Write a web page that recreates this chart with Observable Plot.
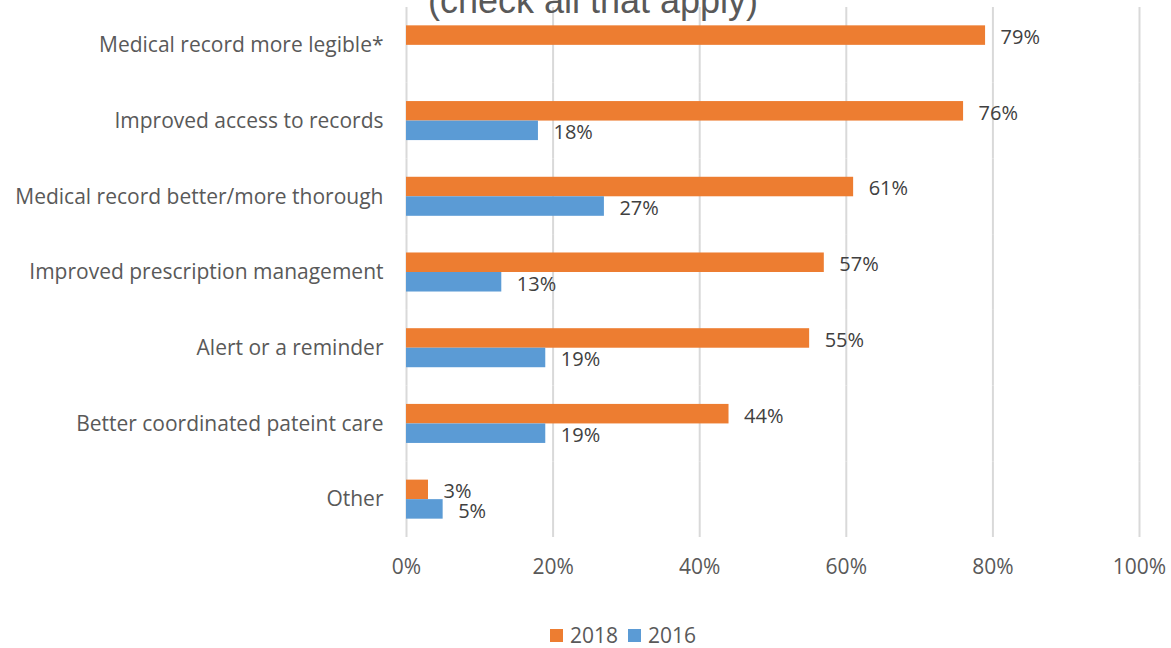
<!DOCTYPE html>
<html><head><meta charset="utf-8">
<script src="https://cdn.jsdelivr.net/npm/d3@7"></script>
<script src="https://cdn.jsdelivr.net/npm/@observablehq/plot@0.6"></script>
<style>
body{margin:0;background:#fff;}
#wrap{position:relative;width:1171px;height:648px;overflow:hidden;font-family:"Open Sans",sans-serif;background:#fff;}
#chart{position:absolute;left:0;top:0;}
#title{position:absolute;left:0;width:1186px;top:-17px;text-align:center;font-family:"Liberation Sans",Arial,sans-serif;font-size:36px;line-height:36px;color:#595959;white-space:nowrap;}
#legend{position:absolute;left:550px;top:623px;height:24px;display:flex;align-items:center;font-size:21px;line-height:24px;color:#595959;}
#legend .sw{width:13px;height:13px;display:inline-block;}
</style></head><body>
<div id="wrap"><div id="chart"></div><div id="title">(check all that apply)</div><div id="legend"></div></div>
<script>
const categories = [
  "Medical record more legible*",
  "Improved access to records",
  "Medical record better/more thorough",
  "Improved prescription management",
  "Alert or a reminder",
  "Better coordinated pateint care",
  "Other"
];
const years = ["2018", "2016"];
const values2018 = [79, 76, 61, 57, 55, 44, 3];
const values2016 = [null, 18, 27, 13, 19, 19, 5];
const xTicks = [0, 20, 40, 60, 80, 100];
const colors = ["#ED7D31", "#5B9BD5"];

const data = [];
categories.forEach((c, i) => {
  if (values2018[i] != null) data.push({category: c, year: "2018", value: values2018[i]});
  if (values2016[i] != null) data.push({category: c, year: "2016", value: values2016[i]});
});

const chart = Plot.plot({
  width: 1171,
  height: 600,
  marginTop: 7,
  marginBottom: 63,
  marginLeft: 406,
  marginRight: 32,
  style: {fontFamily: "'Open Sans', sans-serif", fontSize: "21px", color: "#595959", background: "transparent"},
  x: {domain: [0, 100], label: null},
  fy: {domain: categories, padding: 0, round: false, label: null},
  y: {domain: years, paddingInner: 0, paddingOuter: 0.94, round: false, axis: null},
  color: {domain: years, range: colors},
  marks: [
    Plot.gridX({ticks: xTicks, stroke: "#d9d9d9", strokeOpacity: 1, strokeWidth: 2}),
    Plot.axisX({ticks: xTicks, tickFormat: d => d + "%", tickSize: 0, tickPadding: 22, label: null, fill: "#595959"}),
    Plot.axisFy({anchor: "left", tickSize: 0, tickPadding: 23, label: null, fill: "#595959"}),
    Plot.barX(data, {x: "value", y: "year", fy: "category", fill: "year"}),
    Plot.text(data, {x: "value", y: "year", fy: "category", text: d => d.value + "%", textAnchor: "start", dx: 15, dy: 2, fill: "#404040", fontSize: 20})
  ]
});
document.getElementById("chart").appendChild(chart);

const legend = document.getElementById("legend");
years.forEach((y, i) => {
  const sw = document.createElement("span");
  sw.className = "sw";
  sw.style.background = colors[i];
  sw.style.marginLeft = i === 0 ? "0px" : "10px";
  sw.style.marginRight = "7px";
  legend.appendChild(sw);
  const t = document.createElement("span");
  t.textContent = y;
  legend.appendChild(t);
});
</script>
</body></html>
